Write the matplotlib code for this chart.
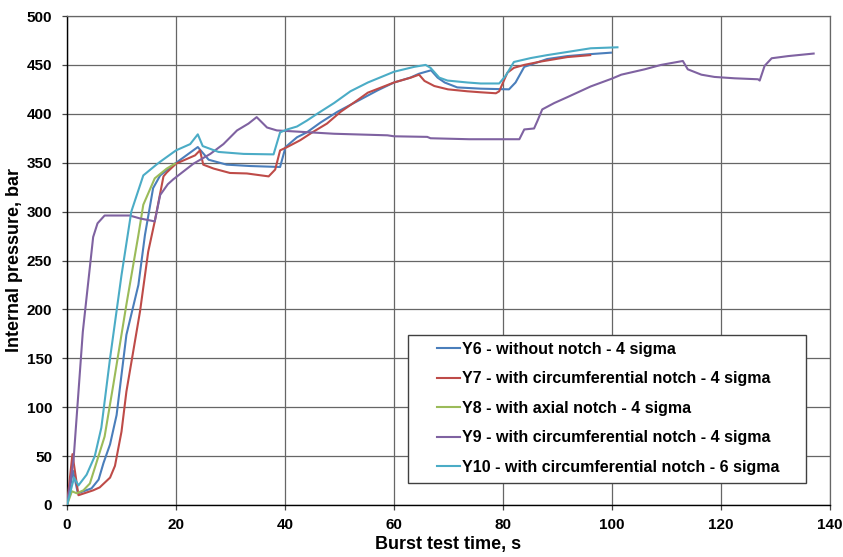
import matplotlib
matplotlib.use("Agg")
import matplotlib.pyplot as plt
from matplotlib.patches import Rectangle

plt.rcParams['font.family'] = ['Liberation Sans', 'DejaVu Sans']
plt.rcParams['font.weight'] = 'bold'

# Y6 - without notch
t_y6 = [0, 1.1, 2, 4.5, 5.8, 6.7, 7.9, 9.1, 10.9, 13.1, 14.3, 15.8, 17.1, 19.8, 24, 26, 29.3, 33.6,
        39.1, 40.1, 42.2, 44, 46.5, 49.6, 53.3, 57, 60, 63, 64.6, 66.8, 68, 69.3, 71.6, 75.9, 81.1,
        82.3, 83.9, 88.1, 91.8, 96, 99.8]
p_y6 = [0, 35, 12, 17, 26, 43, 62, 92, 174, 225, 276, 324, 337, 349, 366, 353, 348, 346.6,
        345.6, 366, 376, 381, 391, 402, 413, 424, 432, 437, 441, 444.5, 437, 432, 427, 425.7, 425,
        432, 448, 456, 459, 461, 462.5]

# Y7 - circumferential notch, 4 sigma
t_y7 = [0, 1.0, 2.1, 4.8, 6, 7.9, 8.8, 10, 10.9, 13.4, 14.9, 16.1, 17.7, 18.3, 20, 23.5, 24.4, 25,
        26.9, 29.9, 33, 37, 38.2, 39.1, 40.4, 42.8, 45, 47.7, 50.2, 53.3, 55.2, 60, 63.1, 64.6, 65.6,
        67.4, 69.9, 73.5, 75.9, 78.7, 79.3, 80.8, 82, 83.9, 86.9, 91.8, 96]
p_y7 = [0, 52, 10, 15, 18, 28, 40, 75, 116, 198, 259, 290, 336, 340, 349, 357.5, 362.6, 348,
        344, 339.5, 339, 336, 343, 362.6, 366, 373, 381, 390, 402, 414, 421.6, 432, 437, 440, 433.6,
        428.4, 425, 423, 422, 421, 423, 442, 447, 450, 453.4, 458, 460]

# Y8 - axial notch
t_y8 = [0, 0.9, 1.8, 3, 4.2, 5.5, 6.9, 8.5, 10.9, 13.1, 14, 16.1, 18.3, 19.8]
p_y8 = [0, 14, 12, 15, 22, 45, 70, 123, 205, 276, 307, 334, 344, 349]

# Y9 - circumferential notch, 4 sigma
t_y9 = [0, 1.2, 2.9, 4.8, 5.6, 6.9, 11.5, 13.4, 16.1, 17.1, 18.5, 19.5, 23.2, 26.3, 28.7, 31.2,
        33.3, 34.8, 36.7, 38.5, 41.6, 49, 58.8, 60, 66.1, 66.7, 73.8, 83, 83.9, 85.7, 86.3, 87.2,
        89.4, 91.8, 96.1, 100, 101.7, 106, 109, 113, 113.9, 116.4, 118.8, 122.5, 126.8, 127.1, 128,
        129.3, 132.3, 137]
p_y9 = [0, 46, 177, 274, 288, 296, 296, 293, 290, 317, 328, 333, 349, 359, 369, 383,
        390, 396.6, 386, 383, 382, 379.6, 378, 377, 376.4, 375, 374, 374, 384, 385, 392.5, 404.5,
        411, 417, 428, 436, 440, 445.5, 450, 454, 445.5, 440, 437.7, 436.3, 435.3, 434, 449,
        456.8, 459, 461.6]

# Y10 - circumferential notch, 6 sigma
t_y10 = [0, 1.3, 2.1, 3.6, 5.1, 6.3, 7.9, 10, 11.8, 14, 16.4, 17.1, 20, 22.6, 24, 24.9, 27.8, 32.4,
         37.9, 39.1, 40.4, 42.2, 44, 45.9, 49, 52, 55.2, 60, 63.7, 65.8, 66.7, 68.3, 69.8, 73.5,
         75.9, 79.3, 80.5, 82, 85.1, 88.1, 91.2, 96.1, 101]
p_y10 = [0, 28, 20, 31, 50, 79, 150, 235, 300, 337, 348, 351, 362.6, 369, 379, 367, 361, 359,
         358.5, 381, 384, 387, 393, 400, 411, 423, 432, 443, 448, 450, 447, 437, 434, 432,
         431, 431, 439, 453, 457, 460, 462.7, 467, 468]

labels = ["Y6 - without notch - 4 sigma",
          "Y7 - with circumferential notch - 4 sigma",
          "Y8 - with axial notch - 4 sigma",
          "Y9 - with circumferential notch - 4 sigma",
          "Y10 - with circumferential notch - 6 sigma"]
colors = ["#4A7EBB", "#BE4B48", "#9BBB59", "#7F62A1", "#4BACC6"]

fig = plt.figure(figsize=(8.43, 5.57), dpi=100)
ax = fig.add_axes([67/843, 1 - 505/557, 763/843, 489/557])

series = [(t_y6, p_y6), (t_y7, p_y7), (t_y8, p_y8), (t_y9, p_y9), (t_y10, p_y10)]
for (t, p), c, lab in zip(series, colors, labels):
    ax.plot(t, p, color=c, lw=1.5, label=lab, zorder=3)

ax.set_xlim(0, 140)
ax.set_ylim(0, 500)
ax.set_xticks(range(0, 141, 20))
ax.set_yticks(range(0, 501, 50))
ax.grid(True, color="#666666", lw=0.9, zorder=0)
ax.set_axisbelow(True)
for s in ["top", "right"]:
    ax.spines[s].set_color("#666666")
    ax.spines[s].set_linewidth(0.9)
for s in ["left", "bottom"]:
    ax.spines[s].set_color("black")
    ax.spines[s].set_linewidth(1.0)
ax.tick_params(direction="out", length=3.6, width=0.9, labelsize=11, color="#444444")
ax.tick_params(axis="y", pad=7)
ax.tick_params(axis="x", pad=6)

ax.set_xlabel("Burst test time, s", fontsize=13, fontweight="bold", labelpad=3)
ax.set_ylabel("Internal pressure, bar", fontsize=13, fontweight="bold", labelpad=3)

# legend frame (drawn separately so the entries can sit inset like the original)
ax.add_patch(Rectangle((341/763, 22/489), 398/763, 148/489, transform=ax.transAxes,
                       facecolor="white", edgecolor="#404040", lw=1.0, zorder=5))
leg = ax.legend(loc="center left", bbox_to_anchor=(362/763, 96.7/489), frameon=False,
                fontsize=11.5, borderpad=0, handlelength=1.44, handletextpad=0.15,
                labelspacing=0.9)
leg.set_zorder(6)

fig.savefig("out.png", dpi=100)
